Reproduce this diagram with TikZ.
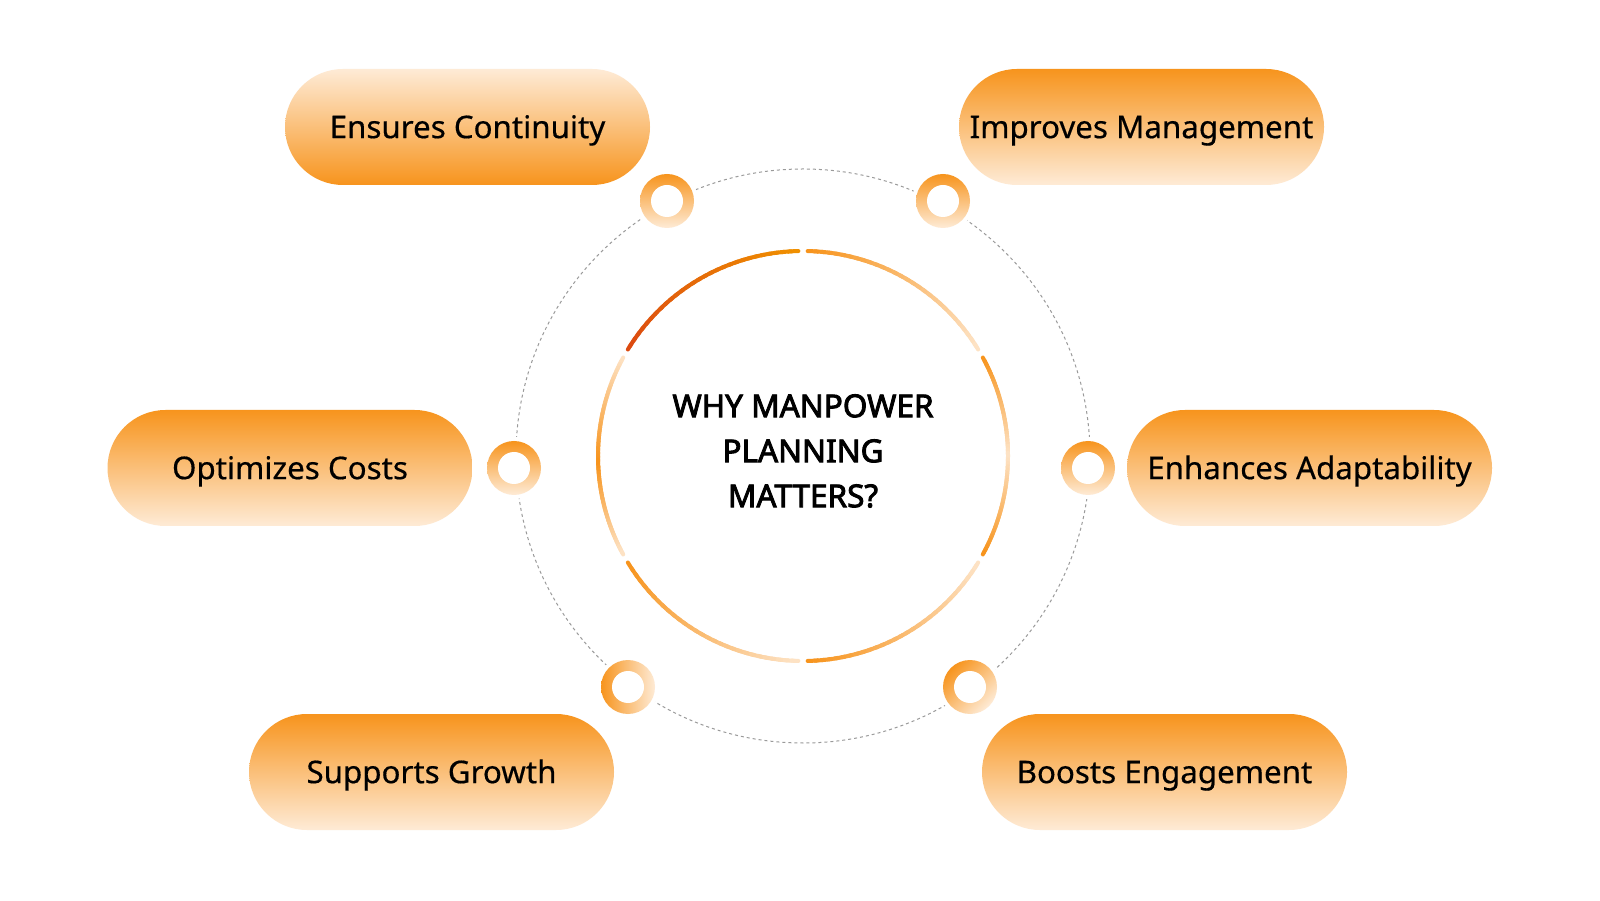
\documentclass[tikz,border=0pt]{standalone}
\usepackage{fontspec}
\setmainfont{Noto Sans}[FakeBold=0.6]
\newfontfamily\pillfont{Noto Sans}[FakeBold=0.45]
\newfontfamily\titlefont{Noto Sans}[FakeBold=2.8]
\usetikzlibrary{calc}
\definecolor{org}{HTML}{F7941D}
\definecolor{lgt}{HTML}{FEEBD6}
\definecolor{darkr}{HTML}{DC4A10}
\definecolor{amb}{HTML}{F09000}
\definecolor{ringl}{HTML}{FDE2C4}
\definecolor{dotc}{HTML}{9A9A9A}
\newcommand\myarc[4]{%
  \foreach \k in {0,...,29}{%
    \pgfmathsetmacro\aa{#1+(#2-#1)*\k/30}%
    \pgfmathsetmacro\bb{#1+(#2-#1)*min(\k+1.5,30)/30}%
    \pgfmathtruncatemacro\pp{100*\k/29}%
    \draw[line width=4pt, line cap=round, color=#4!\pp!#3] ($(C)+(\aa:205)$) arc[start angle=\aa, end angle=\bb, radius=205];
  }%
}
\begin{document}
\begin{tikzpicture}[x=1pt,y=1pt,
  pill/.style={rectangle, rounded corners=58pt, minimum width=365pt, minimum height=116pt, inner sep=0pt, font=\pillfont\fontsize{31.3}{37}\selectfont, text height=22.3pt, text depth=0pt, text=black},
  pillup/.style={pill, top color=org, bottom color=lgt},
  pilldown/.style={pill, top color=lgt, bottom color=org},
  ringdot/.style={circle, minimum size=54pt, inner sep=0pt},
  dotline/.style={dotc, line width=1pt, dash pattern=on 3pt off 3pt}]
\useasboundingbox (0,0) rectangle (1600,900);
\fill[white] (0,0) rectangle (1600,900);
\coordinate (C) at (803,444);
% dashed orbit
\draw[dotline] (C) circle (287);
% inner ring segments
\myarc{91.3}{148.7}{amb}{darkr}
\myarc{88.7}{31.3}{org}{ringl}
\myarc{151.3}{182}{ringl}{org}
\myarc{182}{208.7}{org}{ringl}
\myarc{211.3}{268.7}{org}{ringl}
\myarc{271.3}{328.7}{org}{ringl}
\myarc{28.7}{0}{org}{ringl}
\myarc{0}{-28.7}{ringl}{org}
% centre title
\node[align=center, font=\titlefont\fontsize{31.5}{45}\selectfont, text=black] (title) at (803,449) {WHY MANPOWER\\PLANNING\\MATTERS?};
% small ring markers
\foreach \x/\y in {667/699, 943/699, 514/432, 1088/432, 628/213, 970/213}{
  \fill[white] (\x,\y) circle (31);
}
\node[ringdot, top color=org, bottom color=lgt] (tl) at (667,699) {};
\node[ringdot, top color=org, bottom color=lgt] (tr) at (943,699) {};
\node[ringdot, top color=org, bottom color=lgt] (ml) at (514,432) {};
\node[ringdot, top color=org, bottom color=lgt] (mr) at (1088,432) {};
\node[ringdot, left color=org, right color=lgt] (bl) at (628,213) {};
\node[ringdot, top color=org, bottom color=lgt, shading angle=45] (br) at (970,213) {};
\foreach \n in {tl,tr,ml,mr,bl,br}{
  \fill[white] (\n.center) circle (16);
}
% pills
\node[pilldown] (p1) at (467.5,773) {Ensures Continuity};
\node[pillup] (p2) at (1141.5,773) {Improves Management};
\node[pillup] (p3) at (290,432) {Optimizes Costs};
\node[pillup] (p4) at (1309.5,432) {Enhances Adaptability};
\node[pillup] (p5) at (431.5,128) {Supports Growth};
\node[pillup] (p6) at (1164.5,128) {Boosts Engagement};
\end{tikzpicture}
\end{document}
